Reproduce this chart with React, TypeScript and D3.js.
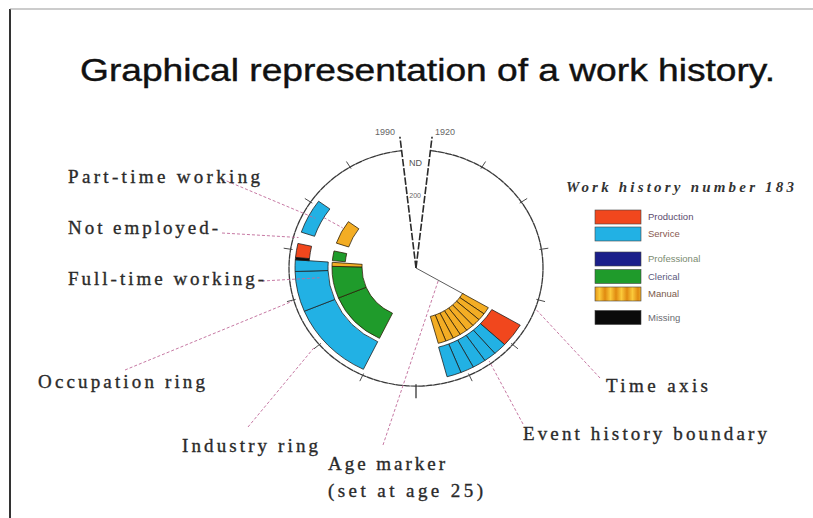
import React from "react";
import * as d3 from "d3";

// ---------- data ----------
const timeDomain = [1920, 1990];
const tickYears = [1925, 1930, 1935, 1940, 1945, 1950, 1955, 1960, 1965, 1970, 1975, 1980, 1985];
const longTickYears = [1955];
const ageMarkerYear = 1943; // age 25

// industry ring spells
const industrySpells = [
  { start: 1943.0, end: 1945.5, cat: "Production", hours: "full" },
  { start: 1945.5, end: 1946.8, cat: "Service", hours: "full" },
  { start: 1946.8, end: 1948.0, cat: "Service", hours: "full" },
  { start: 1948.0, end: 1949.3, cat: "Service", hours: "full" },
  { start: 1949.3, end: 1950.6, cat: "Service", hours: "full" },
  { start: 1950.6, end: 1952.0, cat: "Service", hours: "full" },
  { start: 1960.2, end: 1968.6, cat: "Service", hours: "full" },
  { start: 1968.6, end: 1972.8, cat: "Service", hours: "full" },
  { start: 1972.8, end: 1974.0, cat: "Service", hours: "full" },
  { start: 1974.0, end: 1974.25, cat: "Missing", hours: "part" },
  { start: 1974.25, end: 1975.7, cat: "Production", hours: "part" },
  { start: 1976.9, end: 1980.5, cat: "Service", hours: "part" },
];

// occupation ring spells
const occupationSpells = [
  { start: 1943.0, end: 1944.1, cat: "Manual", hours: "full" },
  { start: 1944.1, end: 1945.2, cat: "Manual", hours: "full" },
  { start: 1945.2, end: 1946.4, cat: "Manual", hours: "full" },
  { start: 1946.4, end: 1947.5, cat: "Manual", hours: "full" },
  { start: 1947.5, end: 1948.6, cat: "Manual", hours: "full" },
  { start: 1948.6, end: 1949.7, cat: "Manual", hours: "full" },
  { start: 1949.7, end: 1950.8, cat: "Manual", hours: "full" },
  { start: 1950.8, end: 1951.9, cat: "Manual", hours: "full" },
  { start: 1960.2, end: 1968.6, cat: "Clerical", hours: "full" },
  { start: 1968.6, end: 1973.4, cat: "Clerical", hours: "full" },
  { start: 1973.4, end: 1974.0, cat: "Manual", hours: "full" },
  { start: 1974.25, end: 1975.7, cat: "Clerical", hours: "part" },
  { start: 1976.9, end: 1980.5, cat: "Manual", hours: "part" },
];

const legendIndustry = ["Production", "Service"];
const legendOccupation = ["Professional", "Clerical", "Manual"];
const legendOther = ["Missing"];

// annotations: text + anchor on the time axis (year, radius)
const annotations = [
  { text: "Part-time working", x: 68, y: 183, len: 192, from: [222, 179], year: 1978.8, r: 114 },
  { text: "Not employed-", x: 68, y: 234, len: 150, from: [222, 233], year: 1976.3, r: 122 },
  { text: "Full-time working-", x: 68, y: 285, len: 196, from: [262, 281], year: 1971.9, r: 97 },
  { text: "Occupation ring", x: 38, y: 388, len: 167, from: [125, 370], year: 1969.9, r: 129 },
  { text: "Industry ring", x: 182, y: 452, len: 136, from: [248, 427], year: 1965.1, r: 132 },
  { text: "Age marker", x: 328, y: 470, len: 117, from: [383, 445], year: 1943.0, r: 26 },
  { text: "Event history boundary", x: 523, y: 440, len: 244, from: [523, 424], year: 1947.7, r: 124 },
  { text: "Time axis", x: 606, y: 392, len: 102, from: [600, 378], year: 1941.0, r: 129 },
];

// ---------- style ----------
const W = 813, H = 518;
const cx = 416, cy = 268, sy = 0.93, R = 127;
const ringRadii = {
  industry: { full: [88, 121], part: [107, 121] },
  occupation: { full: [54, 84], part: [71, 84] },
};
const catColor: Record<string, string> = {
  Production: "#f1471d",
  Service: "#22b1e4",
  Professional: "#1b1f8a",
  Clerical: "#1f9b2b",
  Manual: "#f3ad24",
  Missing: "#0a0a0a",
};
const legendTextColor: Record<string, string> = {
  Production: "#5b4a6e",
  Service: "#8a5a50",
  Professional: "#7a8a70",
  Clerical: "#5b5a7e",
  Manual: "#7a5a4a",
  Missing: "#6a6a70",
};
const leaderColor = "#c06a98";
const rad = (d: number) => (d * Math.PI) / 180;

export default function App() {
  const angle = d3.scaleLinear().domain(timeDomain).range([rad(6.5), rad(353.5)]);
  const arc = d3.arc<any>();
  const local = (year: number, r: number) => {
    const a = angle(year);
    return [r * Math.sin(a), -r * Math.cos(a)];
  };
  const polar = (year: number, r: number) => {
    const a = angle(year);
    return [cx + r * Math.sin(a), cy - r * Math.cos(a) * sy];
  };

  const spellPath = (s: any, ring: "industry" | "occupation") => {
    const [ri, ro] = (ringRadii as any)[ring][s.hours];
    return arc({ innerRadius: ri, outerRadius: ro, startAngle: angle(s.start), endAngle: angle(s.end) }) as string;
  };

  const legendRows: { name: string; y: number }[] = [];
  let ly = 210;
  legendIndustry.forEach((n) => { legendRows.push({ name: n, y: ly }); ly += 17; });
  ly += 8;
  legendOccupation.forEach((n) => { legendRows.push({ name: n, y: ly }); ly += 17.5; });
  ly += 6;
  legendOther.forEach((n) => { legendRows.push({ name: n, y: ly }); ly += 17; });

  const labelFont = "'Liberation Serif', 'DejaVu Serif', serif";

  const wedgeEnd1920 = local(1920, 142);
  const wedgeEnd1990 = local(1990, 142);
  const age1 = local(ageMarkerYear, 56);

  return (
    <svg width={W} height={H} style={{ position: "absolute", left: 0, top: 0, background: "#fff" }}>
      <defs>
        <linearGradient id="manualStripe" x1="0" x2="1" y1="0" y2="0">
          <stop offset="0" stopColor="#e08a10" />
          <stop offset="0.5" stopColor="#fbc93a" />
          <stop offset="1" stopColor="#e08a10" />
        </linearGradient>
        <pattern id="manualPat" patternUnits="userSpaceOnUse" width="11" height="20">
          <rect width="11" height="20" fill="url(#manualStripe)" />
        </pattern>
      </defs>
      {/* frame */}
      <line x1={10} y1={9} x2={10} y2={H} stroke="#333" strokeWidth={2} />
      <line x1={10} y1={9} x2={W} y2={9} stroke="#999" strokeWidth={1} />

      {/* title */}
      <text x={80} y={81} fontFamily="'Liberation Sans', Arial, sans-serif" fontSize={31} fill="#111"
        stroke="#111" strokeWidth={0.4} textLength={695} lengthAdjust="spacingAndGlyphs">
        Graphical representation of a work history.
      </text>

      {/* polar chart */}
      <g transform={`translate(${cx},${cy}) scale(1,${sy})`}>
        <path
          d={arc({ innerRadius: R, outerRadius: R, startAngle: angle(1920), endAngle: angle(1990) }) as string}
          fill="none" stroke="#3a3a3a" strokeWidth={1.3} strokeDasharray="6 1.5" />
        {tickYears.map((y) => {
          const long = longTickYears.includes(y);
          const [x1, y1] = local(y, R - 2);
          const [x2, y2] = local(y, R + (long ? 13 : 7));
          return <line key={y} x1={x1} y1={y1} x2={x2} y2={y2} stroke="#444" strokeWidth={long ? 1.4 : 1} />;
        })}
        <line x1={0} y1={0} x2={wedgeEnd1920[0]} y2={wedgeEnd1920[1]} stroke="#2a2a2a" strokeWidth={1.6} strokeDasharray="8 2" />
        <line x1={0} y1={0} x2={wedgeEnd1990[0]} y2={wedgeEnd1990[1]} stroke="#2a2a2a" strokeWidth={1.6} strokeDasharray="8 2" />
        <line x1={0} y1={0} x2={age1[0]} y2={age1[1]} stroke="#555" strokeWidth={1} />
        {industrySpells.map((s, i) => (
          <path key={"ind" + i} d={spellPath(s, "industry")} fill={catColor[s.cat]} stroke="#1d1d1d" strokeWidth={0.8} />
        ))}
        {occupationSpells.map((s, i) => (
          <path key={"occ" + i} d={spellPath(s, "occupation")} fill={catColor[s.cat]} stroke="#2a1d05" strokeWidth={0.8} />
        ))}
      </g>

      {/* axis labels */}
      <text x={395} y={135} textAnchor="end" fontFamily="'Liberation Sans', sans-serif" fontSize={9} fill="#666">1990</text>
      <text x={435} y={135} fontFamily="'Liberation Sans', sans-serif" fontSize={9} fill="#666">1920</text>
      <text x={422} y={166} textAnchor="end" fontFamily="'Liberation Sans', sans-serif" fontSize={9} fill="#555">ND</text>
      <text x={421} y={198} textAnchor="end" fontFamily="'Liberation Sans', sans-serif" fontSize={7} fill="#666">200</text>

      {/* leader lines */}
      {annotations.map((a, i) => {
        const [x2, y2] = polar(a.year, a.r);
        return <line key={"ld" + i} x1={a.from[0]} y1={a.from[1]} x2={x2} y2={y2}
          stroke={leaderColor} strokeWidth={0.9} strokeDasharray="3 2" />;
      })}
      {(() => {
        const [x1, y1] = polar(1979.3, 107);
        const [x2, y2] = polar(1979.3, 85);
        return <line x1={x1} y1={y1} x2={x2} y2={y2} stroke={leaderColor} strokeWidth={0.9} strokeDasharray="3 2" />;
      })()}

      {/* annotation text */}
      {annotations.map((a, i) => (
        <text key={"at" + i} x={a.x} y={a.y} fontFamily={labelFont} fontSize={19} fill="#2a2a2a"
          stroke="#2a2a2a" strokeWidth={0.35} textLength={a.len} lengthAdjust="spacing">
          {a.text}
        </text>
      ))}
      <text x={328} y={497} fontFamily={labelFont} fontSize={19} fill="#2a2a2a" stroke="#2a2a2a"
        strokeWidth={0.35} textLength={155} lengthAdjust="spacing">(set at age 25)</text>

      {/* legend */}
      <text x={566} y={192} fontFamily={labelFont} fontStyle="italic" fontWeight="bold" fontSize={15}
        fill="#333" textLength={228} lengthAdjust="spacing">Work history number 183</text>
      {legendRows.map((r) => (
        <g key={r.name}>
          <rect x={595} y={r.y} width={46} height={14}
            fill={r.name === "Manual" ? "url(#manualPat)" : catColor[r.name]} stroke="#444" strokeWidth={0.6} />
          <text x={648} y={r.y + 10} fontFamily="'Liberation Sans', sans-serif" fontSize={9.5}
            fill={legendTextColor[r.name]}>{r.name}</text>
        </g>
      ))}
    </svg>
  );
}
